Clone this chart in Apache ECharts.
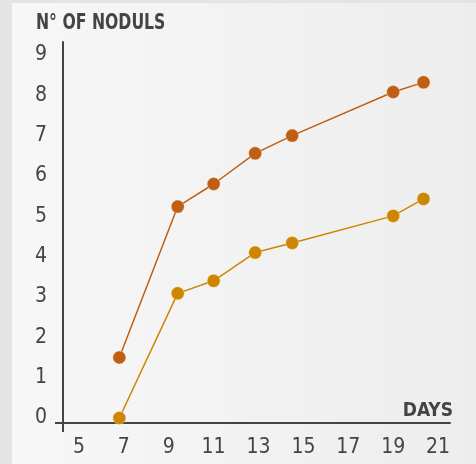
<!DOCTYPE html>
<html><head><meta charset="utf-8">
<script src="https://cdn.jsdelivr.net/npm/echarts@6/dist/echarts.min.js"></script>
<style>html,body{margin:0;padding:0;}#c{width:476px;height:464px;}</style>
</head><body><div id="c"></div>
<script>
const days = [6.8, 9.4, 11.0, 12.85, 14.5, 19.0, 20.35];
const seriesA = [1.5, 5.24, 5.8, 6.56, 7.0, 8.08, 8.32];
const seriesB = [0.0, 3.09, 3.4, 4.1, 4.34, 5.01, 5.43];
const xTicks = [5, 7, 9, 11, 13, 15, 17, 19, 21];
const yTicks = [0, 1, 2, 3, 4, 5, 6, 7, 8, 9];
const yTitle = 'N° OF NODULS';
const xTitle = 'DAYS';

const FONT = '"Liberation Sans Narrow","DejaVu Sans Condensed","Open Sans",sans-serif';
const AX = '#444444';
const xMin = 4.29, xMax = 21.53, yMin = -0.124, yMax = 9.32;

const chart = echarts.init(document.getElementById('c'));
chart.setOption({
  backgroundColor: '#e4e4e4',
  animation: false,
  graphic: [{
    type: 'rect', left: 12, top: 3, z: -10,
    shape: {width: 464, height: 461},
    style: {fill: new echarts.graphic.LinearGradient(0, 0, 1, 0, [
      {offset: 0, color: '#f7f7f7'}, {offset: 1, color: '#ededed'}])}
  }, {
    type: 'text', x: 36, y: 13, scaleX: 0.83,
    style: {text: yTitle, fontFamily: FONT, fontWeight: 'bold', fontSize: 21, fill: AX}
  }],
  grid: {left: 63, right: 26, top: 42, bottom: 41},
  xAxis: {
    type: 'value', min: xMin, max: xMax,
    name: xTitle, nameLocation: 'end', nameGap: 3,
    nameTextStyle: {fontFamily: FONT, fontWeight: 'bold', fontSize: 19, color: AX,
      align: 'right', verticalAlign: 'bottom', padding: [0, 0, 2, 0]},
    splitLine: {show: false},
    axisLine: {show: true, onZero: false, lineStyle: {color: AX, width: 2}},
    axisTick: {show: true, customValues: [xMin], length: 9, inside: false,
      lineStyle: {color: AX, width: 2}},
    axisLabel: {customValues: xTicks, margin: 14, fontFamily: FONT, fontSize: 21, color: AX}
  },
  yAxis: {
    type: 'value', min: yMin, max: yMax,
    splitLine: {show: false},
    axisLine: {show: true, onZero: false, lineStyle: {color: AX, width: 2}},
    axisTick: {show: true, customValues: [yMin], length: 8, inside: false,
      lineStyle: {color: AX, width: 2}},
    axisLabel: {customValues: yTicks, margin: 16, fontFamily: FONT, fontSize: 21, color: AX}
  },
  series: [
    {type: 'line', data: days.map((d, i) => [d, seriesA[i]]),
      symbol: 'circle', symbolSize: 13, color: '#BF5F16',
      lineStyle: {width: 1.5, color: '#BF5F16'},
      itemStyle: {color: '#BF5F16', borderColor: 'rgba(255,230,200,0.6)', borderWidth: 0.6}},
    {type: 'line', data: days.map((d, i) => [d, seriesB[i]]),
      symbol: 'circle', symbolSize: 13, color: '#CC8602',
      lineStyle: {width: 1.5, color: '#CC8602'},
      itemStyle: {color: '#CC8602', borderColor: 'rgba(255,235,190,0.6)', borderWidth: 0.6}}
  ]
});
</script></body></html>
